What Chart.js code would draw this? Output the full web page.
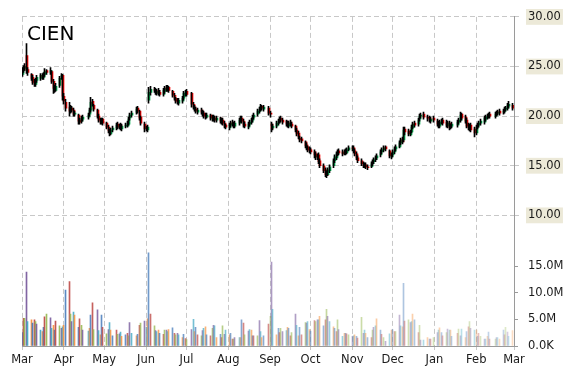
<!DOCTYPE html>
<html><head><meta charset="utf-8">
<script src="https://cdn.jsdelivr.net/npm/chart.js@4.4.0/dist/chart.umd.min.js"></script>
<style>
html,body{margin:0;padding:0;background:#fff;}
#wrap{position:relative;width:570px;height:370px;}
#title{position:absolute;left:27px;top:23px;font:20px/20px "DejaVu Sans",sans-serif;color:#000;}
</style></head><body>
<div id="wrap"><canvas id="c" width="570" height="370"></canvas><div id="title">CIEN</div></div>
<script>
const ticker = "CIEN";
const monthLabels = ["Mar","Apr","May","Jun","Jul","Aug","Sep","Oct","Nov","Dec","Jan","Feb","Mar"];
const monthStarts = ["2014-03-01","2014-04-01","2014-05-01","2014-06-01","2014-07-01","2014-08-01","2014-09-01","2014-10-01","2014-11-01","2014-12-01","2015-01-01","2015-02-01","2015-03-01"];
const axisStart = "2014-03-01";
const firstDay = "2014-03-03";
const lastDay = "2015-03-02";
const holidays = ["2014-04-18","2014-05-26","2014-07-04","2014-09-01","2014-11-27","2014-12-25","2015-01-01","2015-01-19","2015-02-16"];
const priceTicks = [10,15,20,25,30];
const volumeTicks = [0,5,10,15]; // millions

const closes = [
24.6,24.9,25.0,24.6,24.4, 23.8,23.4,23.2,23.6,23.9, 24.1,23.9,24.2,24.5,24.4, 24.6,23.5,22.8,22.6,23.0,
23.8,24.1,22.0,21.5,20.8, 20.5,20.9,20.6,20.2,20.3, 19.5,19.4,19.8,19.9, 20.1,20.6,21.4,21.2,20.7,
20.0,19.6,19.4,19.6,19.3, 18.9,18.5,18.3,18.6,18.8, 19.1,18.9,19.0,18.8,19.0, 19.1,19.3,19.7,20.1,20.3,
20.7,20.5,19.8,19.3, 18.7,18.8,18.9,22.4,22.7, 22.6,22.4,22.5,22.3,22.2, 22.6,22.8,22.7,22.9,22.6,
22.1,21.8,21.5,21.4,21.6, 21.8,22.3,22.4,22.2, 21.2,20.9,20.7,20.5,20.6, 20.4,20.2,20.0,19.9,20.1,
19.8,19.9,19.7,19.6,19.8, 19.5,19.6,19.3,19.0,18.9, 19.1,19.3,19.2,19.0,19.3, 19.6,19.8,19.5,19.1,19.0,
19.2,19.4,19.6,19.9,20.1, 20.5,20.7,21.0,20.8,20.9, 20.3,20.2,18.7,19.0, 19.3,19.5,19.7,19.6,19.4,
19.2,19.1,19.3,19.2,19.0, 18.6,18.2,17.9,17.6,17.5, 17.0,16.8,16.6,16.5,16.4, 16.1,15.9,16.0,15.4,15.0,
14.5,14.1,14.0,14.6,14.9, 15.5,15.9,16.2,16.4,16.3, 16.2,16.4,16.3,16.6,16.8, 16.7,16.5,16.2,15.8,15.5,
15.2,15.0,15.1,14.9,14.8, 15.2,15.4,15.6,15.8,16.0, 16.4,16.6,16.8,16.7, 16.0,16.1,16.4,16.7,16.9,
17.3,17.6,17.4,18.6,18.4, 18.2,18.4,18.9,19.2,19.1, 19.6,20.0,20.1,19.9, 19.8,19.6,19.7,19.6,
19.2,19.0,19.4,19.5,19.3, 19.1,19.3,18.8,19.0,19.2, 19.4,19.6,20.1,19.8, 19.5,19.0,18.8,19.0,18.6,
18.3,18.9,19.1,19.3,19.5, 19.8,19.9,20.0,20.1,20.0, 20.2,20.3,20.4,20.3, 20.5,20.7,20.8,21.1,21.2,
20.8
];
const opens = [
24.2,24.6,24.8,26.1,24.7, 24.2,23.9,23.5,23.2,23.6, 23.8,24.1,23.9,24.2,24.6, 24.4,24.5,23.5,22.9,22.6,
23.1,23.9,24.1,22.0,21.4, 20.9,20.5,20.8,20.6,20.2, 20.1,19.6,19.5,19.7, 19.9,20.2,20.6,21.5,21.1,
20.6,20.0,19.7,19.4,19.7, 19.3,18.9,18.5,18.2,18.6, 18.8,19.2,18.9,19.1,18.7, 19.0,19.0,19.2,19.8,20.1,
20.4,20.8,20.5,19.9, 19.2,18.7,18.6,21.6,22.4, 22.7,22.6,22.3,22.6,22.4, 22.2,22.5,22.9,22.6,22.9,
22.5,22.1,21.8,21.6,21.3, 21.5,21.8,22.2,22.5, 22.3,21.2,20.9,20.7,20.4, 20.6,20.4,20.3,20.1,19.9,
20.1,19.7,19.9,19.8,19.6, 19.8,19.4,19.6,19.3,19.1, 18.8,19.1,19.4,19.2,19.0, 19.3,19.6,19.8,19.5,19.2,
18.9,19.2,19.4,19.6,19.9, 20.2,20.5,20.7,21.0,20.7, 20.8,20.3,19.2,18.8, 19.0,19.3,19.5,19.8,19.6,
19.5,19.3,19.0,19.4,19.2, 19.0,18.6,18.3,17.8,17.7, 17.4,17.1,16.9,16.7,16.6, 16.4,16.2,15.8,16.1,15.5,
15.0,14.6,14.3,14.1,14.5, 15.0,15.5,15.8,16.2,16.5, 16.4,16.2,16.5,16.3,16.6, 16.8,16.8,16.5,16.2,15.8,
15.5,15.2,15.0,15.1,14.9, 14.9,15.2,15.4,15.6,15.8, 16.1,16.4,16.6,16.9, 16.5,15.9,16.1,16.4,16.7,
16.9,17.3,17.7,17.6,18.7, 18.5,18.1,18.4,18.8,19.3, 19.2,19.7,20.0,20.2, 19.9,19.8,19.5,19.8,
19.5,19.3,19.0,19.4,19.6, 19.4,19.0,19.3,18.9,19.0, 19.1,19.4,19.6,20.2, 19.9,19.6,19.1,18.7,19.1,
18.7,18.3,18.9,19.1,19.3, 19.4,19.7,19.9,20.0,20.2, 20.0,20.2,20.3,20.5, 20.4,20.5,20.7,20.8,21.0,
21.1
];
const highs = [
24.9,25.1,25.3,27.3,24.9, 24.3,24.1,23.7,23.8,24.1, 24.3,24.3,24.4,24.8,24.7, 24.9,24.6,23.7,23.1,23.3,
24.0,24.3,24.2,22.3,21.7, 21.4,21.1,21.0,20.8,20.5, 20.2,19.8,20.0,20.1, 20.3,20.8,21.9,21.7,21.2,
20.7,20.2,19.8,19.8,19.8, 19.4,19.1,18.7,18.8,19.0, 19.3,19.4,19.2,19.3,19.2, 19.3,19.5,19.9,20.3,20.5,
20.9,21.0,20.6,20.0, 19.4,19.0,19.1,22.9,23.0, 22.9,22.8,22.7,22.8,22.6, 22.8,23.0,23.1,23.1,23.0,
22.6,22.3,21.9,21.8,21.8, 22.0,22.5,22.6,22.7, 22.4,21.4,21.1,20.9,20.8, 20.8,20.6,20.5,20.3,20.3,
20.2,20.1,20.1,20.0,20.0, 19.9,19.8,19.8,19.5,19.2, 19.3,19.5,19.6,19.4,19.5, 19.8,20.0,20.0,19.7,19.4,
19.4,19.6,19.8,20.1,20.3, 20.7,20.9,21.2,21.1,21.1, 21.0,20.5,19.4,19.2, 19.5,19.7,19.9,20.0,19.8,
19.6,19.5,19.5,19.6,19.4, 19.1,18.8,18.5,18.0,17.9, 17.5,17.3,17.0,16.9,16.8, 16.6,16.4,16.2,16.3,15.7,
15.2,14.8,14.5,14.8,15.1, 15.7,16.1,16.4,16.6,16.7, 16.6,16.6,16.7,16.8,17.0, 17.0,17.0,16.7,16.4,16.0,
15.7,15.4,15.3,15.3,15.1, 15.4,15.6,15.8,16.0,16.2, 16.6,16.8,17.0,17.0, 16.6,16.3,16.6,16.9,17.1,
17.5,17.8,17.9,18.9,18.9, 18.7,18.6,19.1,19.4,19.5, 19.8,20.2,20.3,20.4, 20.1,20.0,19.9,20.0,
19.7,19.5,19.6,19.7,19.8, 19.6,19.5,19.5,19.2,19.4, 19.6,19.8,20.4,20.3, 20.1,19.8,19.3,19.2,19.3,
18.9,19.1,19.3,19.5,19.7, 20.0,20.1,20.2,20.3,20.4, 20.4,20.5,20.6,20.7, 20.7,20.9,21.0,21.3,21.5,
21.3
];
const lows = [
24.0,24.4,24.6,24.3,24.1, 23.6,23.2,23.0,23.0,23.4, 23.6,23.7,23.7,24.0,24.2, 24.2,23.3,22.3,22.4,22.5,
22.9,23.7,21.6,21.2,20.5, 20.0,20.3,20.4,20.0,20.0, 19.2,19.2,19.3,19.5, 19.7,20.0,20.4,21.0,20.5,
19.8,19.4,19.2,19.2,19.1, 18.7,18.3,18.0,18.1,18.4, 18.6,18.7,18.7,18.6,18.5, 18.8,18.9,19.1,19.6,19.9,
20.2,20.3,19.6,19.1, 18.4,18.5,18.4,21.3,22.1, 22.4,22.2,22.1,22.1,22.0, 22.0,22.3,22.5,22.5,22.4,
21.9,21.6,21.3,21.2,21.1, 21.3,21.6,22.0,22.0, 20.9,20.7,20.5,20.3,20.2, 20.2,20.0,19.8,19.7,19.8,
19.6,19.5,19.5,19.4,19.4, 19.3,19.2,19.1,18.8,18.7, 18.6,18.9,19.0,18.8,18.8, 19.1,19.4,19.3,18.9,18.8,
18.7,19.0,19.2,19.4,19.7, 20.0,20.3,20.5,20.6,20.5, 20.1,19.9,18.4,18.6, 18.8,19.1,19.3,19.4,19.2,
19.0,18.9,18.8,19.0,18.8, 18.4,18.0,17.7,17.4,17.3, 16.8,16.6,16.4,16.3,16.2, 15.8,15.6,15.6,15.2,14.8,
14.3,13.9,13.8,14.0,14.3, 14.8,15.3,15.6,16.0,16.1, 16.0,16.1,16.1,16.2,16.5, 16.5,16.3,16.0,15.6,15.3,
15.0,14.8,14.8,14.7,14.6, 14.8,15.0,15.2,15.4,15.6, 15.9,16.2,16.4,16.5, 15.8,15.7,15.9,16.2,16.5,
16.8,17.1,17.2,17.4,18.1, 18.0,18.0,18.3,18.7,18.9, 19.0,19.5,19.8,19.7, 19.5,19.4,19.3,19.4,
19.0,18.8,18.8,19.2,19.1, 18.9,18.8,18.6,18.7,18.8, 18.9,19.2,19.4,19.6, 19.3,18.8,18.6,18.5,18.4,
17.9,18.1,18.7,18.9,19.1, 19.2,19.5,19.7,19.8,19.8, 19.8,20.0,20.1,20.1, 20.2,20.3,20.5,20.6,20.8,
20.6
];
const volumes = [ // millions of shares
2.5,5.2,5.2,13.9,4.6, 4.9,4.3,4.9,4.6,4.1, 3.0,2.7,3.5,5.5,6.0, 5.3,3.3,3.9,3.0,4.7,
3.8,3.3,3.6,3.9,10.5, 12.1,6.0,4.6,6.4,5.8, 3.5,5.1,3.9,3.0, 2.8,3.3,5.8,8.1,3.1,
6.8,2.9,2.1,5.8,3.5, 2.3,3.1,4.4,3.0,1.9, 3.0,2.2,2.3,2.6,1.8, 2.1,2.4,1.9,4.4,2.4,
1.9,2.2,3.9,4.3, 4.7,3.5,5.1,17.5,6.0, 3.8,2.9,2.7,3.0,2.4, 2.2,3.0,3.0,2.7,3.1,
3.4,2.4,2.1,2.4,2.1, 1.6,2.2,1.4,1.2, 3.1,5.0,2.7,3.5,2.1, 1.9,2.9,3.3,3.6,2.1,
1.9,3.3,3.9,3.8,1.6, 2.2,1.6,3.8,2.2,3.0, 2.1,2.4,1.3,1.3,1.6, 1.6,1.6,4.9,4.3,2.1,
2.8,3.1,3.0,1.9,1.9, 1.9,4.8,2.7,1.6,1.9, 4.1,5.6,15.8,6.9, 2.1,3.3,2.5,3.3,2.7,
2.9,3.5,3.3,1.9,2.5, 6.0,3.9,1.9,3.5,2.1, 4.4,4.3,4.6,3.1,2.8, 4.8,4.6,4.9,4.9,5.6,
3.8,4.9,6.9,5.6,4.6, 3.6,3.3,2.7,4.9,3.1, 1.8,2.4,2.4,2.3,2.1, 1.8,1.9,2.1,1.8,1.5,
5.4,2.4,3.0,2.4,1.6, 1.6,3.0,3.5,3.8,5.1, 3.0,2.2,1.6,0.9, 2.3,3.0,3.1,2.7,2.7,
5.8,3.8,3.6,11.8,4.7, 4.9,4.4,4.6,6.0,4.9, 2.5,3.9,1.1,1.1, 1.6,1.3,1.3,1.6,
2.5,3.0,3.4,2.5,1.9, 2.5,3.2,3.0,3.0,1.8, 2.4,3.2,1.9,3.2, 1.6,2.7,3.6,4.6,3.3,
3.0,3.0,1.8,2.4,1.8, 1.3,1.3,1.8,2.6,1.3, 1.3,1.6,1.6,1.3, 3.0,2.1,3.5,2.6,1.8,
2.9
];

// ---- trading-day categories ----
const DAY = 86400000;
const t = s => Date.parse(s + "T00:00:00Z");
const xs = [];
for (let d = t(firstDay); d <= t(lastDay); d += DAY) {
  const dt = new Date(d);
  const wd = dt.getUTCDay();
  const iso = dt.toISOString().slice(0, 10);
  if (wd === 0 || wd === 6 || holidays.includes(iso)) continue;
  xs.push((d - t(firstDay)) / DAY);
}
const tickVals = monthStarts.map(s => (t(s) - t(axisStart)) / DAY);

const n = Math.min(xs.length, closes.length);
const bodyData = [], wickData = [], volData = [];
for (let i = 0; i < n; i++) {
  bodyData.push({x: xs[i], y: [opens[i], closes[i]]});
  wickData.push({x: xs[i], y: [lows[i], highs[i]]});
  volData.push({x: xs[i], y: volumes[i]});
}

const volPalette = [[79,129,189],[192,80,77],[155,187,89],[128,100,162],[75,172,198],[247,150,70]];
const UP = "#00B050", DOWN = "#FF0000";
const GRID = "#c8c8c8", AXIS = "#9a9a9a", TXT = "#1a1a1a";

// snap bar elements (computed by the scales) onto whole device pixels for crisp 1px marks
const pixelSnap = {
  id: "pixelSnap",
  afterDatasetsUpdate(chart) {
    chart.data.datasets.forEach((ds, di) => {
      const meta = chart.getDatasetMeta(di);
      const w = ds.barThickness;
      meta.data.forEach(el => {
        const left = Math.round(el.x - 0.5);
        el.x = left + w / 2;
      });
    });
  }
};

Chart.defaults.font.family = "'DejaVu Sans', sans-serif";
Chart.defaults.font.size = 11.5;
Chart.defaults.color = TXT;

new Chart(document.getElementById("c"), {
  type: "bar",
  plugins: [pixelSnap],
  data: {
    datasets: [
      {
        label: "Volume", yAxisID: "yv", data: volData, barThickness: 1, order: 3,
        backgroundColor: c => {
          const i = c.dataIndex, p = volPalette[i % 6];
          const a = 1 - 0.68 * i / Math.max(1, n - 1);
          return `rgba(${p[0]},${p[1]},${p[2]},${a.toFixed(3)})`;
        }
      },
      {
        label: ticker + " body", yAxisID: "y", data: bodyData, barThickness: 2, order: 2,
        backgroundColor: c => (closes[c.dataIndex] >= opens[c.dataIndex] ? UP : DOWN)
      },
      {
        label: ticker + " range", yAxisID: "y", data: wickData, barThickness: 1, order: 1,
        backgroundColor: "#000"
      }
    ]
  },
  options: {
    responsive: false, animation: false, devicePixelRatio: 1,
    layout: {padding: {left: 22, top: 16, right: 0, bottom: 0}},
    datasets: {bar: {grouped: false, borderWidth: 0}},
    plugins: {legend: {display: false}, tooltip: {enabled: false}, title: {display: false}},
    scales: {
      x: {
        type: "linear", min: 0, max: 365, offset: false,
        afterBuildTicks: s => { s.ticks = tickVals.map(v => ({value: v})); },
        ticks: {
          autoSkip: false, maxRotation: 0, padding: 3, color: TXT,
          callback: v => monthLabels[tickVals.indexOf(v)]
        },
        grid: {color: GRID, tickLength: 4, offset: false},
        border: {color: AXIS, dash: [5, 3]},
        afterFit: s => { s.height = 24; s.paddingLeft = 0; s.paddingRight = 0; }
      },
      y: {
        position: "right", stack: "right", stackWeight: 2,
        min: 7.89, max: 30,
        afterBuildTicks: s => { s.ticks = priceTicks.map(v => ({value: v})); },
        ticks: {
          padding: 9, color: TXT,
          callback: v => Number(v).toFixed(2),
          showLabelBackdrop: true, backdropColor: "#ECE9D8",
          backdropPadding: {left: 2, right: 2, top: 1, bottom: 1}
        },
        grid: {color: GRID, tickLength: 5},
        border: {color: AXIS, dash: [5, 3]},
        afterFit: s => { s.width = 56; }
      },
      yv: {
        position: "right", stack: "right", stackWeight: 1,
        min: 0, max: 20.625,
        afterBuildTicks: s => { s.ticks = volumeTicks.map(v => ({value: v})); },
        ticks: {
          padding: 10, color: TXT,
          callback: v => (v === 0 ? "0.0K" : Number(v).toFixed(1) + "M")
        },
        grid: {drawOnChartArea: false, color: AXIS, tickLength: 4},
        border: {color: AXIS},
        afterFit: s => { s.width = 56; }
      }
    }
  }
});
</script>
</body></html>
